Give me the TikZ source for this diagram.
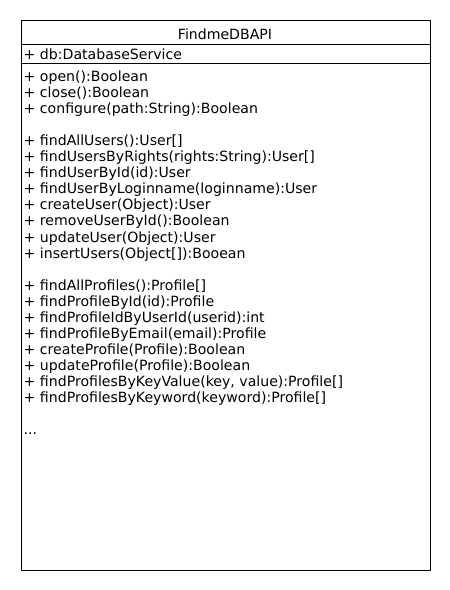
\documentclass[tikz,border=0pt]{standalone}
\usepackage{fontspec}
\setmainfont{DejaVu Sans}
\begin{document}
\begin{tikzpicture}[x=1bp,y=-1bp,
  umltext/.style={inner sep=0pt,anchor=base west,font=\fontsize{14.1bp}{16bp}\selectfont},
  titletext/.style={inner sep=0pt,anchor=base,font=\fontsize{14.1bp}{16bp}\selectfont},
  frame/.style={draw=black,line width=1bp,inner sep=0pt,minimum width=409bp,minimum height=549bp,anchor=north west},
  sep/.style={draw=black,line width=1bp}]
\useasboundingbox (0,0) rectangle (450,590);
\node[frame] (box) at (20.5,20.5) {};
\coordinate (s1l) at (20.5,44.5);
\coordinate (s1r) at (429.5,44.5);
\coordinate (s2l) at (20.5,63.5);
\coordinate (s2r) at (429.5,63.5);
\draw[sep] (s1l) -- (s1r);
\draw[sep] (s2l) -- (s2r);
\node[titletext] (title) at (225,39.5) {FindmeDBAPI};
\node[umltext] (attr) at (23.5,59.5) {+ db:DatabaseService};
\foreach \k/\t in {0/{+ open():Boolean},1/{+ close():Boolean},2/{+ configure(path:String):Boolean},
  4/{+ findAllUsers():User[]},5/{+ findUsersByRights(rights:String):User[]},6/{+ findUserById(id):User},
  7/{+ findUserByLoginname(loginname):User},8/{+ createUser(Object):User},9/{+ removeUserById():Boolean},
  10/{+ updateUser(Object):User},11/{+ insertUsers(Object[]):Booean},
  13/{+ findAllProfiles():Profile[]},14/{+ findProfileById(id):Profile},15/{+ findProfileIdByUserId(userid):int},
  16/{+ findProfileByEmail(email):Profile},17/{+ createProfile(Profile):Boolean},18/{+ updateProfile(Profile):Boolean},
  19/{+ findProfilesByKeyValue(key, value):Profile[]},20/{+ findProfilesByKeyword(keyword):Profile[]},
  22/{...}}
  \node[umltext] (m\k) at (23.5,{81.5+16.05*\k}) {\t};
\end{tikzpicture}
\end{document}
